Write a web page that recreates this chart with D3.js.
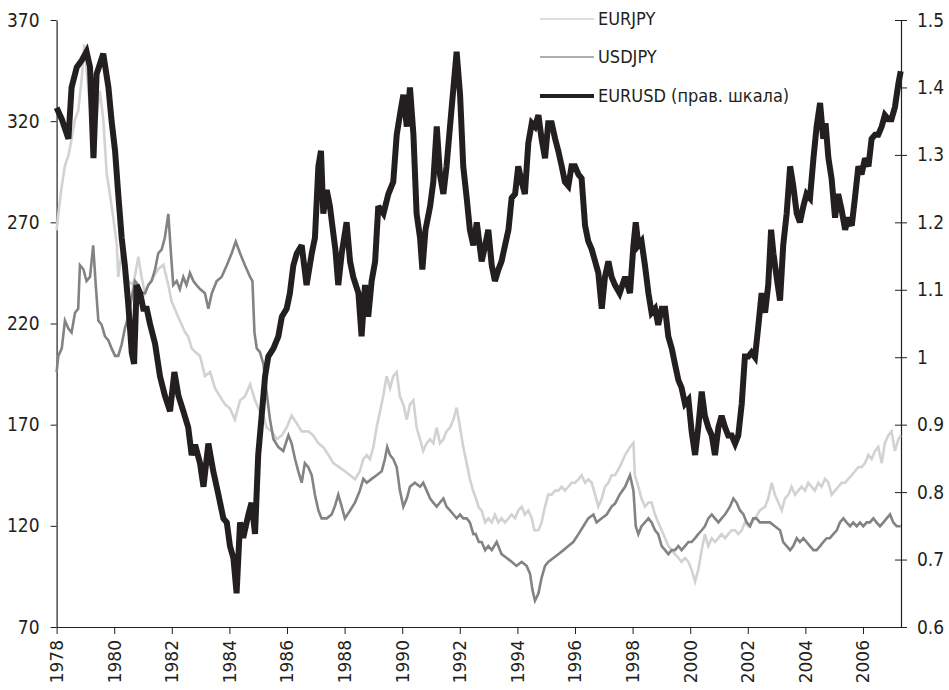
<!DOCTYPE html>
<html>
<head>
<meta charset="utf-8">
<script src="https://cdn.jsdelivr.net/npm/d3@7"></script>
<style>
  body { margin: 0; background: #fff; }
  svg { display: block; }
  .axis text { font-family: "DejaVu Sans Condensed", "DejaVu Sans", sans-serif; fill: #231f20; }
  .axis path, .axis line { stroke: #231f20; }
</style>
</head>
<body>
<svg id="chart"></svg>
<script>
// EURUSD (right scale)
const eurusdYears = [1978.00,1978.18,1978.41,1978.52,1978.70,1978.87,1979.04,1979.16,1979.28,1979.39,1979.62,1979.80,1979.91,1980.03,1980.14,1980.26,1980.37,1980.49,1980.61,1980.69,1980.78,1980.90,1981.01,1981.13,1981.24,1981.42,1981.59,1981.76,1981.94,1982.09,1982.23,1982.40,1982.57,1982.69,1982.81,1982.98,1983.10,1983.27,1983.44,1983.62,1983.79,1983.91,1984.02,1984.14,1984.25,1984.37,1984.48,1984.66,1984.77,1984.89,1985.00,1985.12,1985.24,1985.35,1985.53,1985.70,1985.82,1985.99,1986.10,1986.22,1986.34,1986.51,1986.68,1986.86,1986.97,1987.09,1987.18,1987.26,1987.38,1987.49,1987.61,1987.68,1987.78,1987.90,1988.07,1988.19,1988.30,1988.48,1988.59,1988.71,1988.82,1988.94,1989.06,1989.17,1989.35,1989.52,1989.69,1989.81,1989.92,1990.04,1990.16,1990.27,1990.39,1990.50,1990.62,1990.70,1990.81,1990.97,1991.08,1991.20,1991.31,1991.43,1991.54,1991.66,1991.78,1991.89,1992.01,1992.12,1992.24,1992.35,1992.47,1992.59,1992.76,1992.88,1992.99,1993.11,1993.22,1993.34,1993.45,1993.57,1993.69,1993.80,1993.92,1994.03,1994.15,1994.26,1994.38,1994.50,1994.61,1994.73,1994.84,1994.96,1995.07,1995.19,1995.31,1995.42,1995.54,1995.65,1995.77,1995.88,1996.00,1996.12,1996.23,1996.35,1996.46,1996.58,1996.70,1996.81,1996.93,1997.04,1997.16,1997.27,1997.39,1997.55,1997.74,1997.91,1998.03,1998.11,1998.20,1998.31,1998.43,1998.55,1998.66,1998.78,1998.89,1999.01,1999.13,1999.24,1999.36,1999.47,1999.59,1999.70,1999.82,1999.94,2000.05,2000.17,2000.28,2000.40,2000.51,2000.63,2000.75,2000.86,2000.98,2001.09,2001.21,2001.32,2001.44,2001.56,2001.67,2001.79,2001.90,2002.02,2002.13,2002.25,2002.37,2002.48,2002.60,2002.71,2002.81,2002.89,2003.00,2003.12,2003.23,2003.35,2003.47,2003.58,2003.70,2003.81,2003.93,2004.04,2004.16,2004.28,2004.39,2004.51,2004.62,2004.70,2004.80,2004.91,2005.03,2005.14,2005.26,2005.38,2005.49,2005.61,2005.72,2005.84,2005.95,2006.07,2006.19,2006.30,2006.42,2006.53,2006.65,2006.76,2006.88,2006.99,2007.11,2007.23,2007.31];
const eurusdValues = [1.370,1.353,1.324,1.400,1.430,1.440,1.453,1.430,1.295,1.420,1.450,1.400,1.350,1.306,1.242,1.177,1.136,1.078,1.007,0.990,1.107,1.095,1.072,1.072,1.050,1.020,0.972,0.943,0.920,0.978,0.943,0.920,0.896,0.855,0.870,0.843,0.808,0.872,0.831,0.796,0.761,0.755,0.720,0.702,0.650,0.755,0.732,0.767,0.784,0.738,0.855,0.913,0.972,1.001,1.013,1.031,1.060,1.072,1.095,1.136,1.154,1.166,1.107,1.154,1.177,1.283,1.306,1.213,1.248,1.224,1.183,1.160,1.107,1.154,1.200,1.142,1.119,1.095,1.031,1.107,1.060,1.113,1.142,1.224,1.213,1.242,1.260,1.330,1.359,1.389,1.342,1.400,1.330,1.213,1.177,1.130,1.189,1.224,1.260,1.342,1.271,1.242,1.283,1.342,1.400,1.453,1.389,1.283,1.236,1.189,1.166,1.200,1.142,1.166,1.189,1.136,1.113,1.130,1.142,1.166,1.189,1.236,1.242,1.283,1.260,1.242,1.318,1.347,1.342,1.359,1.324,1.295,1.347,1.347,1.324,1.306,1.283,1.260,1.254,1.283,1.283,1.271,1.265,1.195,1.172,1.160,1.142,1.125,1.072,1.119,1.142,1.119,1.107,1.095,1.119,1.095,1.166,1.200,1.166,1.172,1.136,1.095,1.066,1.072,1.048,1.072,1.072,1.031,1.013,0.990,0.966,0.955,0.931,0.937,0.890,0.855,0.896,0.949,0.913,0.896,0.884,0.855,0.896,0.913,0.896,0.884,0.884,0.872,0.884,0.931,1.001,1.001,1.007,1.000,1.048,1.095,1.066,1.107,1.189,1.154,1.119,1.084,1.166,1.213,1.283,1.254,1.213,1.200,1.224,1.242,1.236,1.295,1.342,1.377,1.324,1.347,1.295,1.265,1.207,1.242,1.218,1.189,1.207,1.195,1.236,1.283,1.271,1.295,1.283,1.324,1.330,1.330,1.342,1.359,1.353,1.353,1.371,1.406,1.424];

// EURJPY (left scale)
const eurjpyYears = [1978.00,1978.06,1978.18,1978.29,1978.41,1978.52,1978.64,1978.75,1978.87,1978.96,1979.04,1979.16,1979.28,1979.39,1979.50,1979.62,1979.74,1979.85,1979.97,1980.09,1980.14,1980.26,1980.37,1980.49,1980.66,1980.84,1980.95,1981.07,1981.18,1981.36,1981.53,1981.71,1981.88,1981.99,1982.11,1982.23,1982.34,1982.46,1982.57,1982.69,1982.81,1982.98,1983.15,1983.33,1983.50,1983.67,1983.85,1984.02,1984.19,1984.37,1984.54,1984.72,1984.89,1985.06,1985.18,1985.29,1985.47,1985.64,1985.82,1985.99,1986.16,1986.34,1986.51,1986.74,1986.91,1987.09,1987.26,1987.44,1987.61,1987.81,1988.01,1988.19,1988.36,1988.53,1988.65,1988.77,1988.88,1989.00,1989.11,1989.23,1989.34,1989.46,1989.58,1989.69,1989.81,1989.92,1990.04,1990.16,1990.27,1990.39,1990.50,1990.62,1990.73,1990.85,1990.97,1991.08,1991.20,1991.31,1991.43,1991.54,1991.66,1991.78,1991.89,1992.01,1992.12,1992.24,1992.35,1992.47,1992.55,1992.66,1992.76,1992.88,1992.99,1993.11,1993.22,1993.34,1993.45,1993.57,1993.69,1993.80,1993.92,1994.03,1994.15,1994.26,1994.38,1994.50,1994.59,1994.73,1994.84,1994.96,1995.07,1995.19,1995.31,1995.42,1995.54,1995.65,1995.77,1995.88,1996.00,1996.12,1996.23,1996.35,1996.46,1996.58,1996.70,1996.81,1996.93,1997.04,1997.16,1997.27,1997.39,1997.55,1997.74,1997.91,1998.03,1998.08,1998.20,1998.31,1998.43,1998.55,1998.66,1998.78,1998.89,1999.01,1999.13,1999.24,1999.36,1999.47,1999.59,1999.70,1999.82,1999.94,2000.05,2000.17,2000.28,2000.40,2000.51,2000.63,2000.75,2000.86,2000.98,2001.09,2001.21,2001.32,2001.44,2001.56,2001.67,2001.79,2001.90,2002.02,2002.13,2002.25,2002.42,2002.60,2002.71,2002.83,2002.94,2003.06,2003.18,2003.29,2003.41,2003.52,2003.64,2003.75,2003.87,2003.99,2004.10,2004.22,2004.33,2004.45,2004.56,2004.68,2004.80,2004.91,2005.03,2005.14,2005.26,2005.38,2005.49,2005.61,2005.72,2005.84,2005.95,2006.07,2006.19,2006.30,2006.42,2006.53,2006.65,2006.76,2006.88,2006.99,2007.11,2007.23,2007.31];
const eurjpyValues = [266,274,288,298,303,311,321,325,341,358,345,327,311,323,335,321,294,284,272,259,243,255,249,241,239,253,243,235,239,243,247,249,239,231,227,223,219.5,215.6,213.6,207.7,206,204,194,196,188,184,180,178,172.5,182,184,190,182,176.5,174.5,168.6,166.7,162.8,164.7,168.6,174.5,170.6,166.7,166.7,164.7,160.8,158.9,155,151,149,147,145,143,147,153,155,153,159,168.6,176.5,184,194,188,194,196,184,180,172.5,180,182,168.6,162.8,157,160.8,162.8,160.8,168.6,160.8,162.8,166.7,168.6,172.5,178.4,168.6,158.9,151,143,137,134,129,127.6,121.7,123.7,121.7,125.6,121.7,123.7,121.7,123.7,125.6,123.7,127.6,129.5,125.6,127.6,123.7,117.8,117.8,121.7,129.5,135.4,135.4,137.4,137.4,139.3,137.4,139.3,141.3,141.3,143,145,141.3,143,141.3,135.4,129.5,133.5,139.3,141.3,145,145,149,155,159,161,145,139.3,133.5,129.5,131.5,131.5,125.6,121.7,117.8,113.9,110,108,106,104.1,102.2,104.1,102.2,98.2,92.4,98.2,108,115.9,110,113.9,112,113.9,115.9,113.9,115.9,117.8,117.8,115.9,117.8,121.7,119.8,121.7,123.7,127.6,129.5,133.5,141.3,135.4,131.5,127.6,133.5,135.4,139.3,135.4,137.4,139.3,137.4,141.3,139.3,137.4,141.3,139.3,143.2,141.3,135.4,137.4,139.3,141.3,141.3,143.2,145.1,147,149,149,151,155,153,157,159,151,161,164.7,166.7,157,162.8,164.7];

// USDJPY (left scale)
const usdjpyYears = [1978.00,1978.06,1978.18,1978.29,1978.41,1978.52,1978.64,1978.75,1978.81,1978.93,1979.04,1979.16,1979.27,1979.36,1979.45,1979.56,1979.68,1979.80,1979.91,1980.03,1980.14,1980.26,1980.37,1980.49,1980.61,1980.72,1980.84,1980.95,1981.07,1981.18,1981.30,1981.42,1981.53,1981.65,1981.76,1981.88,1981.97,1982.05,1982.17,1982.28,1982.40,1982.51,1982.63,1982.75,1982.86,1982.98,1983.15,1983.27,1983.39,1983.56,1983.73,1983.91,1984.08,1984.22,1984.37,1984.54,1984.72,1984.80,1984.87,1984.95,1985.06,1985.18,1985.29,1985.41,1985.53,1985.70,1985.87,1986.05,1986.16,1986.28,1986.39,1986.51,1986.62,1986.74,1986.86,1986.97,1987.09,1987.20,1987.38,1987.55,1987.67,1987.78,1987.90,1988.01,1988.19,1988.36,1988.53,1988.65,1988.77,1988.94,1989.11,1989.29,1989.40,1989.48,1989.58,1989.69,1989.81,1989.92,1990.04,1990.16,1990.27,1990.44,1990.62,1990.73,1990.85,1990.97,1991.08,1991.20,1991.31,1991.43,1991.54,1991.66,1991.78,1991.89,1992.01,1992.12,1992.24,1992.35,1992.47,1992.55,1992.66,1992.76,1992.88,1992.99,1993.11,1993.28,1993.45,1993.63,1993.80,1993.97,1994.15,1994.32,1994.44,1994.52,1994.61,1994.73,1994.84,1994.96,1995.07,1995.25,1995.42,1995.60,1995.77,1995.94,1996.12,1996.29,1996.46,1996.64,1996.75,1996.93,1997.10,1997.27,1997.39,1997.55,1997.74,1997.91,1998.03,1998.11,1998.20,1998.31,1998.43,1998.55,1998.66,1998.78,1998.89,1999.01,1999.13,1999.24,1999.36,1999.47,1999.59,1999.70,1999.82,1999.94,2000.05,2000.17,2000.28,2000.40,2000.51,2000.63,2000.75,2000.86,2000.98,2001.09,2001.21,2001.38,2001.50,2001.61,2001.73,2001.85,2001.96,2002.08,2002.19,2002.30,2002.42,2002.60,2002.77,2002.94,2003.12,2003.23,2003.35,2003.47,2003.58,2003.70,2003.81,2003.93,2004.04,2004.16,2004.28,2004.39,2004.51,2004.62,2004.74,2004.85,2004.97,2005.09,2005.20,2005.32,2005.43,2005.55,2005.66,2005.78,2005.90,2006.01,2006.13,2006.24,2006.36,2006.47,2006.59,2006.71,2006.82,2006.94,2007.05,2007.17,2007.31];
const usdjpyValues = [196,204,207.7,221.4,217.5,215.6,225.3,227.3,248.8,246.8,241,243,258.6,239,221.4,219.5,213.6,211.6,207.7,204,204,209.7,217.5,223.4,233,241,239,235,235,239,241,246.8,254.7,256.6,262.5,274.2,254.7,239,241,237,243,239,245,241,239,237,235,227.3,235,241,243,248.8,254.7,260.5,254.7,248.8,243,241,215.6,207.7,205.8,200,186.2,172.5,162.8,158.9,157,164.7,160.8,153,147,141.3,151,149,145,135.4,127.6,123.7,123.7,125.6,130,135.4,129.5,123.7,127.6,131.5,137.4,143.2,141.3,143.2,145,147,153,158.9,155,153,149,137.4,129.5,133.5,139.3,141.3,139.3,141.3,137.4,133.5,131.5,129.5,131.5,133.5,129.5,127.6,125.6,123.7,125.6,123.7,123.7,121.7,115.9,116,112,112,108,110,108,112,106,104.1,102.2,100.2,102.2,100.2,96.3,88.5,83,86.5,94.3,100.2,102.2,104.1,106,108,110,112,115.9,119.8,123.7,125.6,121.7,123.7,125.6,129.5,131,135.4,139.3,145,137.4,119.8,115.9,119.8,121.7,123.7,121.7,117.8,115.9,110,108,106,108,108,110,108,110,112,112,113.9,115.9,117.8,119.8,123.7,125.6,123.7,121.7,123.7,125.6,129.5,133.5,131.5,127.6,125.6,121.7,119.8,123.7,123.7,121.7,121.7,121.7,119.8,117.8,112,110,108,110,113.9,112,113.9,112,110,108,108,110,112,113.9,113.9,115.9,117.8,121.7,123.7,121.7,119.8,121.7,119.8,121.7,119.8,121.7,121.7,123.7,121.7,119.8,121.7,123.7,125.6,121.7,119.8,119.8];

const yearTicks = [1978,1980,1982,1984,1986,1988,1990,1992,1994,1996,1998,2000,2002,2004,2006];
const leftTicks = [70,120,170,220,270,320,370];
const rightTicks = [0.6,0.7,0.8,0.9,1,1.1,1.2,1.3,1.4,1.5];
const legendLabels = ["EURJPY", "USDJPY", "EURUSD (прав. шкала)"];

const W = 949, H = 690;
const plotLeft = 56.6, plotRight = 901, plotTop = 20, plotBottom = 627;

const svg = d3.select("#chart").attr("width", W).attr("height", H);

const x = d3.scaleLinear().domain([1978, 2007.32]).range([plotLeft, plotRight]);
const yL = d3.scaleLinear().domain([70, 370]).range([plotBottom, plotTop]);
const yR = d3.scaleLinear().domain([0.6, 1.5]).range([plotBottom, plotTop]);

// axes
const gx = svg.append("g").attr("class", "axis")
  .attr("transform", `translate(0,${plotBottom})`)
  .call(d3.axisBottom(x).tickValues(yearTicks).tickFormat(d3.format("d")).tickSize(7).tickSizeOuter(0));
gx.selectAll("text")
  .style("font-family", "'DejaVu Sans', sans-serif")
  .style("font-size", "17px")
  .attr("transform", "rotate(-90)")
  .attr("x", -13).attr("y", 0).attr("dy", "0.35em")
  .attr("text-anchor", "end");

const gl = svg.append("g").attr("class", "axis")
  .attr("transform", `translate(${plotLeft},0)`)
  .call(d3.axisLeft(yL).tickValues(leftTicks).tickSize(6).tickSizeOuter(0));
gl.selectAll("text").style("font-size", "19px").attr("x", -17);

const gr = svg.append("g").attr("class", "axis")
  .attr("transform", `translate(${plotRight},0)`)
  .call(d3.axisRight(yR).tickValues(rightTicks).tickFormat(d => d === 1 ? "1" : d3.format(".1f")(d)).tickSize(6).tickSizeOuter(0));
gr.selectAll(".tick line").attr("x1", -6).attr("x2", 6);
gr.selectAll("text").style("font-size", "19px").attr("x", 16);
svg.selectAll(".axis .domain").attr("stroke-width", 1.2);

// series
const lineL = d3.line().x(d => x(d[0])).y(d => yL(d[1]));
const lineR = d3.line().x(d => x(d[0])).y(d => yR(d[1]));

svg.append("path")
  .datum(d3.zip(eurjpyYears, eurjpyValues))
  .attr("fill", "none").attr("stroke", "#d2d2d2").attr("stroke-width", 2.6)
  .attr("d", lineL);
svg.append("path")
  .datum(d3.zip(usdjpyYears, usdjpyValues))
  .attr("fill", "none").attr("stroke", "#838383").attr("stroke-width", 2.6)
  .attr("d", lineL);
svg.append("path")
  .datum(d3.zip(eurusdYears, eurusdValues))
  .attr("fill", "none").attr("stroke", "#231f20").attr("stroke-width", 6)
  .attr("stroke-linejoin", "miter").attr("stroke-miterlimit", 3)
  .attr("d", lineR);

// legend
const legColors = ["#d2d2d2", "#939393", "#231f20"];
const legWidths = [1.5, 1.5, 4];
const legY = [19, 57, 96];
const leg = svg.append("g");
legendLabels.forEach((name, i) => {
  leg.append("line")
    .attr("x1", 540).attr("x2", 594)
    .attr("y1", legY[i]).attr("y2", legY[i])
    .attr("stroke", legColors[i]).attr("stroke-width", legWidths[i]);
  leg.append("text")
    .attr("x", 598).attr("y", legY[i]).attr("dy", "0.35em")
    .style("font-family", "'DejaVu Sans Condensed', 'DejaVu Sans', sans-serif")
    .style("font-size", "18px").attr("fill", "#231f20")
    .text(name);
});
</script>
</body>
</html>
